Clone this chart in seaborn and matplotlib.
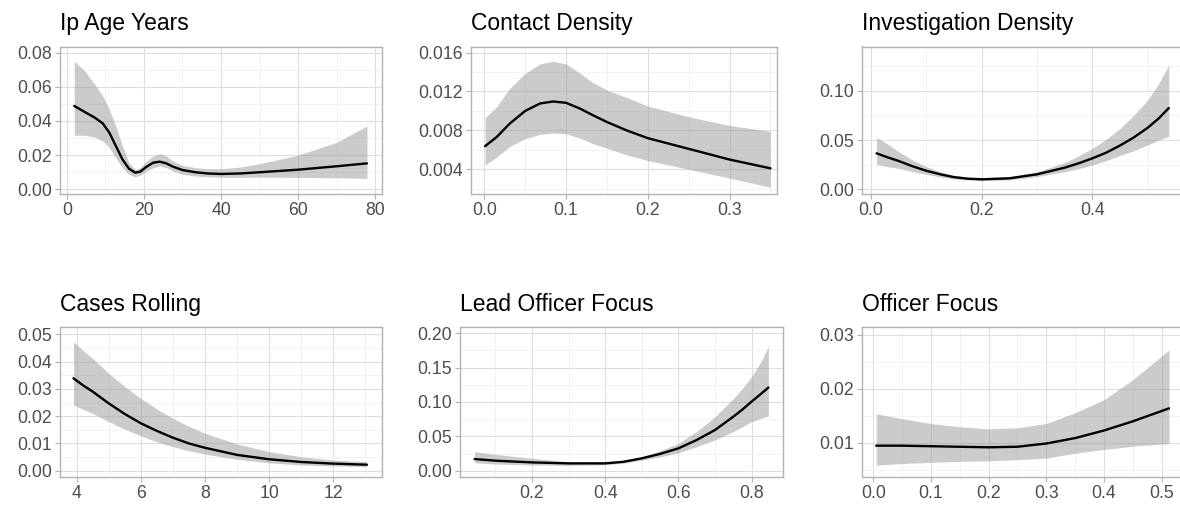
import numpy as np
import pandas as pd
import matplotlib
matplotlib.use("Agg")
import matplotlib.pyplot as plt
import seaborn as sns

# ---------------- data ----------------
titles = ["Ip Age Years", "Contact Density", "Investigation Density",
          "Cases Rolling", "Lead Officer Focus", "Officer Focus"]

age_x = [1.9, 4.6, 7.2, 9.3, 11.0, 12.7, 14.4, 16.1, 17.7, 19.0, 20.7, 22.4, 24.1,
         25.8, 27.5, 30.0, 33.4, 36.4, 40, 45, 50, 60, 70, 77.9]
age_fit = [0.0488, 0.0453, 0.0420, 0.0386, 0.0332, 0.0254, 0.0176, 0.0121, 0.0098,
           0.0103, 0.0133, 0.0156, 0.0162, 0.0152, 0.0133, 0.0113, 0.0100, 0.0093,
           0.0090, 0.0093, 0.0100, 0.0115, 0.0135, 0.0152]
age_hi = [0.0751, 0.0693, 0.0615, 0.0546, 0.0468, 0.0371, 0.0254, 0.0156, 0.0117,
          0.0127, 0.0166, 0.0195, 0.0209, 0.0195, 0.0166, 0.0140, 0.0127, 0.0121,
          0.0121, 0.0130, 0.0150, 0.0200, 0.0275, 0.0371]
age_lo = [0.0316, 0.0316, 0.0306, 0.0283, 0.0244, 0.0185, 0.0127, 0.0088, 0.0074,
          0.0082, 0.0107, 0.0127, 0.0137, 0.0127, 0.0107, 0.0088, 0.0078, 0.0074,
          0.0070, 0.0070, 0.0071, 0.0070, 0.0068, 0.0064]

contact_x = [0.001, 0.015, 0.031, 0.05, 0.068, 0.084, 0.1, 0.117, 0.133, 0.15,
             0.174, 0.2, 0.25, 0.3, 0.35]
contact_fit = [0.00638, 0.00731, 0.00869, 0.0100, 0.01076, 0.01097, 0.01083, 0.01024,
               0.00955, 0.00886, 0.0080, 0.0072, 0.0061, 0.0050, 0.0041]
contact_hi = [0.00931, 0.01041, 0.01231, 0.01386, 0.01483, 0.0151, 0.01483, 0.01386,
              0.0129, 0.01214, 0.01138, 0.0105, 0.0094, 0.0085, 0.0079]
contact_lo = [0.00445, 0.00524, 0.00634, 0.00714, 0.00759, 0.00772, 0.00766, 0.0072,
              0.00662, 0.00617, 0.00548, 0.0049, 0.0040, 0.0031, 0.00215]

invest_x = [0.010, 0.03, 0.05, 0.075, 0.1, 0.125, 0.15, 0.175, 0.2, 0.25, 0.3, 0.35,
            0.375, 0.4, 0.425, 0.45, 0.475, 0.5, 0.52, 0.538]
invest_fit = [0.0364, 0.0323, 0.0286, 0.0232, 0.0186, 0.0150, 0.0121, 0.0105, 0.0099,
              0.0109, 0.0150, 0.0218, 0.0262, 0.0313, 0.0371, 0.0444, 0.0527, 0.0625,
              0.0721, 0.0826]
invest_hi = [0.0524, 0.0459, 0.0380, 0.0296, 0.0228, 0.0177, 0.0138, 0.0122, 0.0116,
             0.0126, 0.0177, 0.0269, 0.0337, 0.0415, 0.0507, 0.0619, 0.0755, 0.0908,
             0.1078, 0.1265]
invest_lo = [0.0252, 0.0228, 0.0211, 0.0177, 0.0150, 0.0122, 0.0102, 0.0092, 0.0085,
             0.0092, 0.0126, 0.0177, 0.0207, 0.0245, 0.0289, 0.0342, 0.0391, 0.0449,
             0.0500, 0.0536]

cases_x = [3.9, 4.2, 4.5, 5, 5.5, 6, 6.5, 7, 7.5, 8, 9, 10, 11, 12, 13.05]
cases_fit = [0.0339, 0.0313, 0.0290, 0.0247, 0.0208, 0.0174, 0.0146, 0.0121, 0.0100,
             0.0084, 0.0058, 0.0042, 0.0032, 0.0026, 0.0022]
cases_hi = [0.0473, 0.0441, 0.0412, 0.0357, 0.0309, 0.0265, 0.0226, 0.0192, 0.0163,
            0.0137, 0.0098, 0.0070, 0.0051, 0.0039, 0.0033]
cases_lo = [0.0241, 0.0225, 0.0210, 0.0180, 0.0152, 0.0128, 0.0106, 0.0088, 0.0073,
            0.0061, 0.0042, 0.0029, 0.0021, 0.0017, 0.0015]

lead_x = [0.043, 0.1, 0.2, 0.3, 0.4, 0.45, 0.5, 0.55, 0.6, 0.65, 0.7, 0.75, 0.775,
          0.8, 0.825, 0.846]
lead_fit = [0.0170, 0.0146, 0.0121, 0.0107, 0.0107, 0.0130, 0.0180, 0.0245, 0.0325,
            0.0447, 0.0592, 0.0786, 0.0890, 0.1005, 0.1115, 0.1210]
lead_hi = [0.0277, 0.0238, 0.0180, 0.0131, 0.0121, 0.0150, 0.0204, 0.0290, 0.0398,
           0.0570, 0.0786, 0.1050, 0.1200, 0.1369, 0.1580, 0.1806]
lead_lo = [0.0117, 0.0097, 0.0083, 0.0078, 0.0087, 0.0110, 0.0155, 0.0200, 0.0262,
           0.0350, 0.0447, 0.0570, 0.0640, 0.0714, 0.0760, 0.0796]

officer_x = [0.005, 0.05, 0.1, 0.15, 0.2, 0.25, 0.3, 0.35, 0.4, 0.45, 0.513]
officer_fit = [0.0095, 0.0095, 0.0094, 0.0093, 0.0092, 0.0093, 0.0099, 0.0109, 0.0123,
               0.0140, 0.0164]
officer_hi = [0.0154, 0.0145, 0.0136, 0.0130, 0.0126, 0.0128, 0.0136, 0.0156, 0.0180,
              0.0217, 0.0272]
officer_lo = [0.0059, 0.0062, 0.0064, 0.0066, 0.0067, 0.0069, 0.0072, 0.0081, 0.0088,
              0.0094, 0.0099]

# tick values / label formats
age_xticks = [0, 20, 40, 60, 80];            age_yticks = [0.00, 0.02, 0.04, 0.06, 0.08]
contact_xticks = [0.0, 0.1, 0.2, 0.3];       contact_yticks = [0.004, 0.008, 0.012, 0.016]
invest_xticks = [0.0, 0.2, 0.4];             invest_yticks = [0.00, 0.05, 0.10]
cases_xticks = [4, 6, 8, 10, 12];            cases_yticks = [0.00, 0.01, 0.02, 0.03, 0.04, 0.05]
lead_xticks = [0.2, 0.4, 0.6, 0.8];          lead_yticks = [0.00, 0.05, 0.10, 0.15, 0.20]
officer_xticks = [0.0, 0.1, 0.2, 0.3, 0.4, 0.5]; officer_yticks = [0.01, 0.02, 0.03]

# ---------------- style ----------------
sns.set_theme(style="white")
plt.rcParams["font.family"] = ["Liberation Sans", "DejaVu Sans"]

W, H = 1180, 505
fig = plt.figure(figsize=(W / 100, H / 100), dpi=100)


def box(l, r, t, b):
    return [l / W, 1 - b / H, (r - l) / W, (b - t) / H]


panels = [
    dict(x=age_x, fit=age_fit, hi=age_hi, lo=age_lo, pos=box(60, 382, 46.5, 194.3),
         xlim=(-1.8, 81.8), ylim=(-0.0029, 0.0836), xt=age_xticks, yt=age_yticks,
         xmin=[10, 30, 50, 70], ymin=[0.01, 0.03, 0.05, 0.07], xf="{:.0f}", yf="{:.2f}"),
    dict(x=contact_x, fit=contact_fit, hi=contact_hi, lo=contact_lo, pos=box(471, 777, 46.5, 194.3),
         xlim=(-0.0163, 0.358), ylim=(0.00143, 0.01662), xt=contact_xticks, yt=contact_yticks,
         xmin=[0.05, 0.15, 0.25, 0.35], ymin=[0.002, 0.006, 0.010, 0.014], xf="{:.1f}", yf="{:.3f}"),
    dict(x=invest_x, fit=invest_fit, hi=invest_hi, lo=invest_lo, pos=box(862, 1184, 46.5, 194.3),
         xlim=(-0.0163, 0.5655), ylim=(-0.0054, 0.1454), xt=invest_xticks, yt=invest_yticks,
         xmin=[0.1, 0.3, 0.5], ymin=[0.025, 0.075, 0.125], xf="{:.1f}", yf="{:.2f}"),
    dict(x=cases_x, fit=cases_fit, hi=cases_hi, lo=cases_lo, pos=box(60, 382, 327.3, 476.7),
         xlim=(3.48, 13.52), ylim=(-0.0022, 0.0526), xt=cases_xticks, yt=cases_yticks,
         xmin=[5, 7, 9, 11, 13], ymin=[0.005, 0.015, 0.025, 0.035, 0.045], xf="{:.0f}", yf="{:.2f}"),
    dict(x=lead_x, fit=lead_fit, hi=lead_hi, lo=lead_lo, pos=box(460, 783, 327.3, 476.7),
         xlim=(0.003, 0.886), ylim=(-0.0087, 0.2087), xt=lead_xticks, yt=lead_yticks,
         xmin=[0.1, 0.3, 0.5, 0.7], ymin=[0.025, 0.075, 0.125, 0.175], xf="{:.1f}", yf="{:.2f}"),
    dict(x=officer_x, fit=officer_fit, hi=officer_hi, lo=officer_lo, pos=box(862, 1184, 327.3, 476.7),
         xlim=(-0.0196, 0.539), ylim=(0.00376, 0.0314), xt=officer_xticks, yt=officer_yticks,
         xmin=[0.05, 0.15, 0.25, 0.35, 0.45], ymin=[0.005, 0.015, 0.025], xf="{:.1f}", yf="{:.2f}"),
]

for title, p in zip(titles, panels):
    ax = fig.add_axes(p["pos"])
    ax.set_facecolor("white")
    ax.set_axisbelow(True)
    df = pd.DataFrame({"x": p["x"], "fit": p["fit"], "lo": p["lo"], "hi": p["hi"]})
    ax.fill_between(df["x"], df["lo"], df["hi"], color="#999999", alpha=0.5, lw=0, zorder=2)
    sns.lineplot(data=df, x="x", y="fit", ax=ax, color="black", lw=1.7,
                 estimator=None, sort=False, zorder=3)
    ax.set_xlim(*p["xlim"])
    ax.set_ylim(*p["ylim"])
    ax.set_xticks(p["xt"])
    ax.set_xticklabels([p["xf"].format(v) for v in p["xt"]])
    ax.set_yticks(p["yt"])
    ax.set_yticklabels([p["yf"].format(v) for v in p["yt"]])
    ax.set_xticks(p["xmin"], minor=True)
    ax.set_yticks(p["ymin"], minor=True)
    ax.grid(True, which="major", color="#DEDEDE", lw=0.8, zorder=0)
    ax.grid(True, which="minor", color="#EDEDED", lw=0.5, zorder=0)
    ax.tick_params(which="major", length=3.5, width=0.8, color="#B3B3B3",
                   labelsize=12.7, labelcolor="#4D4D4D", pad=2.2,
                   bottom=True, left=True)
    ax.tick_params(which="minor", length=0)
    for s in ax.spines.values():
        s.set_color("#B3B3B3")
        s.set_linewidth(1.0)
    ax.set_xlabel("")
    ax.set_ylabel("")
    ax.set_title(title, loc="left", fontsize=16.5, color="black", pad=12)

fig.savefig("out.png", dpi=100)
